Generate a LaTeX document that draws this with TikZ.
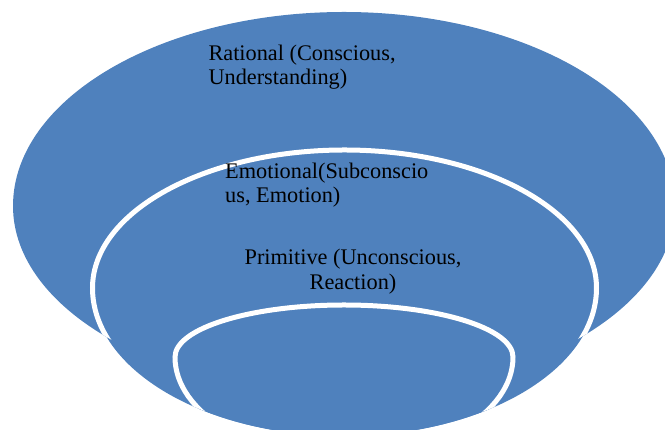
\documentclass[tikz,border=0pt]{standalone}
\usepackage{fontspec}
\setmainfont{Liberation Serif}
\definecolor{discblue}{RGB}{79,129,189}
\begin{document}
\begin{tikzpicture}[x=1pt,y=1pt,
  label text/.style={inner sep=0pt, text=black,
    font=\fontsize{22.3}{24.4}\selectfont},
  rim/.style={draw=white, line width=5pt},
  outer disc/.style={insert path={(675,224)
    arc[start angle=0,end angle=180,x radius=331,y radius=194]
    arc[start angle=180,end angle=360,x radius=331,y radius=188] -- cycle}},
  middle disc/.style={insert path={(596.5,142)
    arc[start angle=0,end angle=180,x radius=252,y radius=138]
    arc[start angle=180,end angle=360,x radius=252,y radius=148] -- cycle}},
  inner disc/.style={insert path={(513,73)
    arc[start angle=0,end angle=180,x radius=169,y radius=52]
    arc[start angle=180,end angle=360,x radius=169,y radius=101] -- cycle}}]
\useasboundingbox (0,0) rectangle (665,430);
\clip (0,0) rectangle (665,430);

% outer level
\fill[discblue, outer disc];

% middle level with its white rim over the outer level
\fill[discblue, middle disc];
\begin{scope}
  \clip[outer disc];
  \draw[rim, middle disc];
\end{scope}

% inner level, kept inside the middle level
\begin{scope}
  \clip[middle disc];
  \fill[discblue, inner disc];
  \draw[rim, inner disc];
\end{scope}

% labels (base anchor sits on the last line)
\node[label text, align=left, anchor=base west] (rational) at (208.3,345)
  {Rational (Conscious,\\Understanding)};
\node[label text, align=left, anchor=base west] (emotional) at (225,227.3)
  {Emotional(Subconscio\\us, Emotion)};
\node[label text, align=center, anchor=base] (primitive) at (353,140.7)
  {Primitive (Unconscious,\\Reaction)};
\end{tikzpicture}
\end{document}
